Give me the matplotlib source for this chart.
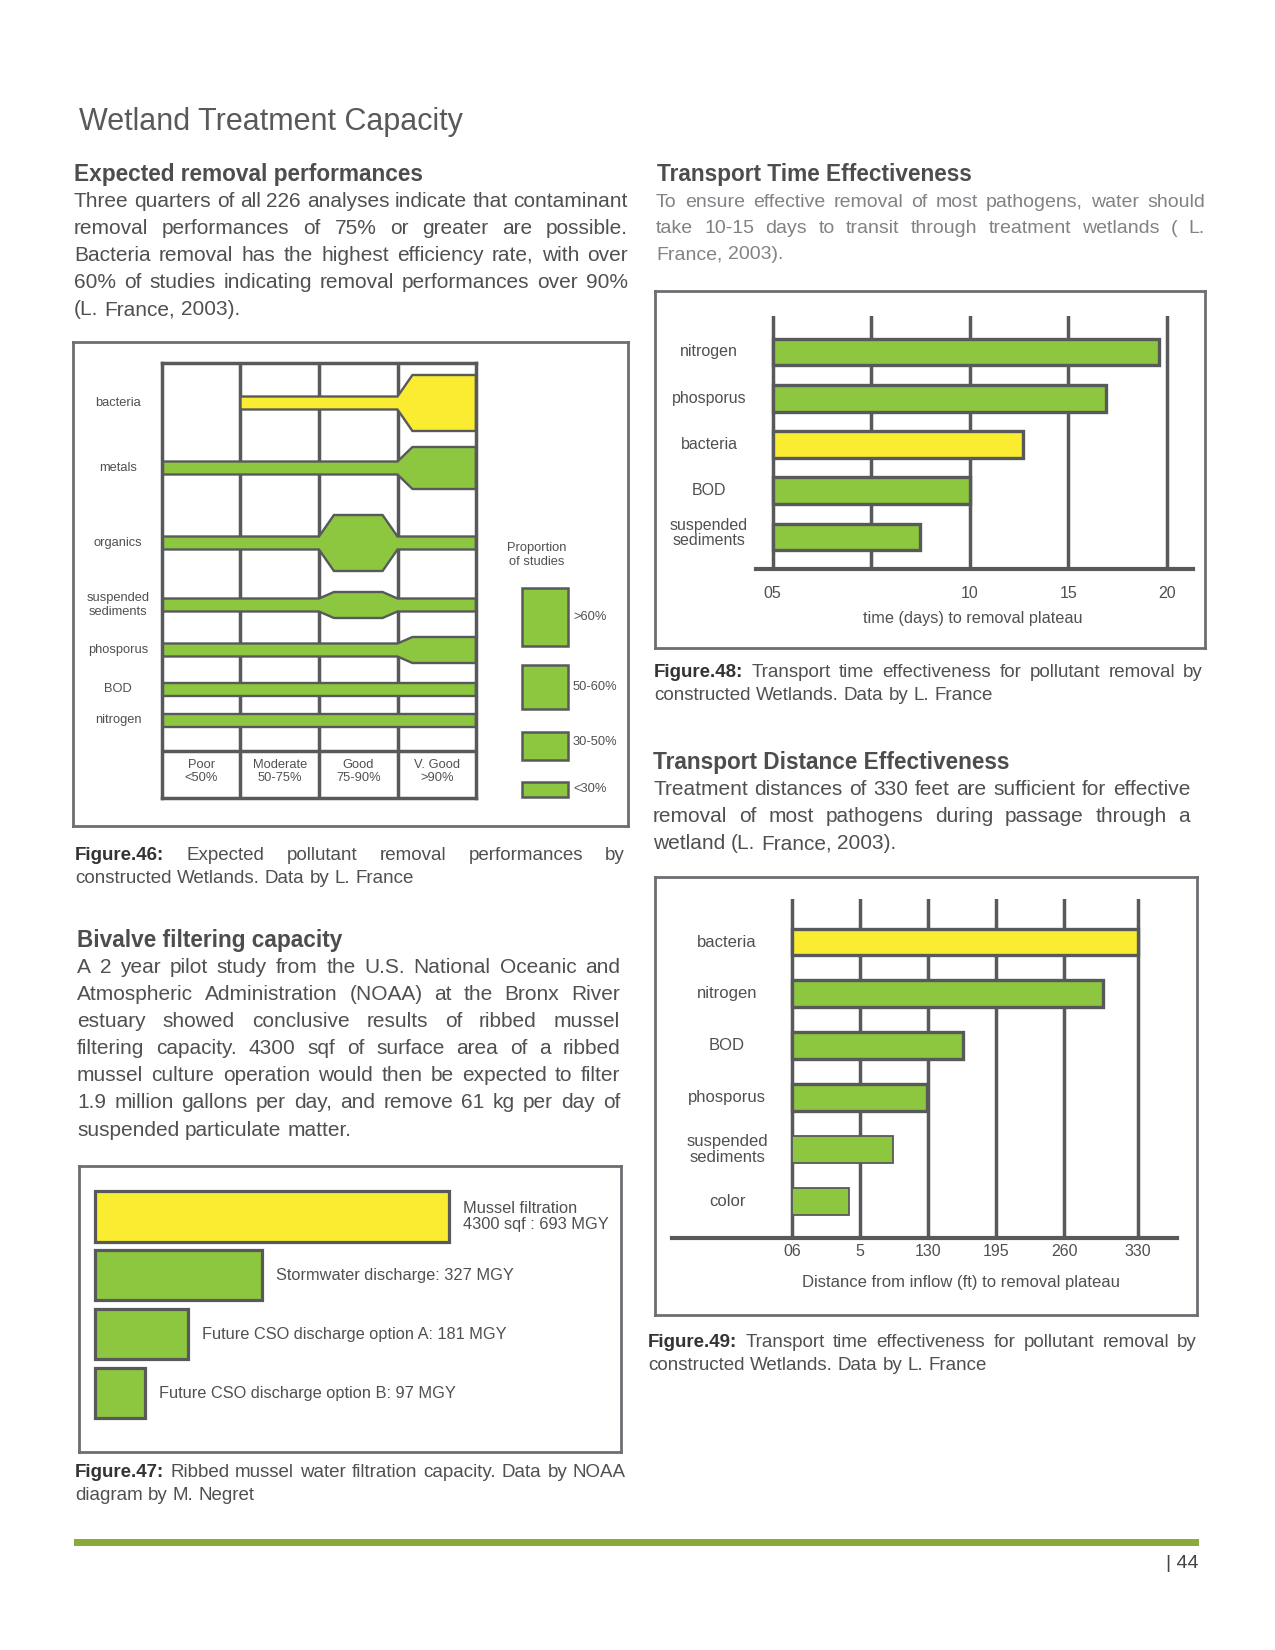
import numpy as np
import matplotlib
matplotlib.use('Agg')
import matplotlib.pyplot as plt
from matplotlib.patches import Polygon, Rectangle
from matplotlib.transforms import blended_transform_factory

plt.rcParams['font.family'] = ['Liberation Sans', 'DejaVu Sans']

W, H = 1275, 1650
GREEN = '#8dc63f'
YELLOW = '#f9ec31'
EDGE = '#58595b'
FRAME = '#6d6e71'
TXT = '#505052'
HEAD = '#4d4d4f'

# ---------------- data ----------------
# Fig 46: proportion of studies per performance class
# 0 = none, 1 = <30%, 2 = 30-50%, 3 = 50-60%, 4 = >60%
perf_classes = ['Poor\n<50%', 'Moderate\n50-75%', 'Good\n75-90%', 'V. Good\n>90%']
perf_pollutants = ['bacteria', 'metals', 'organics', 'suspended\nsediments',
                   'phosporus', 'BOD', 'nitrogen']
perf_levels = [
    [0, 1, 1, 4],
    [1, 1, 1, 3],
    [1, 1, 4, 1],
    [1, 1, 2, 1],
    [1, 1, 1, 2],
    [1, 1, 1, 1],
    [1, 1, 1, 1],
]
legend_levels = [4, 3, 2, 1]
legend_labels = ['>60%', '50-60%', '30-50%', '<30%']

# Fig 47: mussel filtration, million gallons per year
mussel_labels = ['Mussel filtration\n4300 sqf : 693 MGY', 'Stormwater discharge: 327 MGY',
                 'Future CSO discharge option A: 181 MGY', 'Future CSO discharge option B: 97 MGY']
mussel_mgy = [693, 327, 181, 97]

# Fig 48: time (days) to removal plateau
time_pollutants = ['nitrogen', 'phosporus', 'bacteria', 'BOD', 'suspended\nsediments']
time_days = [19.6, 16.9, 12.7, 10.0, 8.75]
time_ticks = [5, 7.5, 10, 15, 20]
time_ticklabels = ['05', '', '10', '15', '20']

# Fig 49: distance (ft) to removal plateau
dist_pollutants = ['bacteria', 'nitrogen', 'BOD', 'phosporus', 'suspended\nsediments', 'color']
dist_ft = [330, 297, 163, 129, 96, 54]
dist_ticks = [0, 65, 130, 195, 260, 330]
dist_ticklabels = ['06', '5', '130', '195', '260', '330']

# ---------------- page ----------------
fig = plt.figure(figsize=(W / 100, H / 100), dpi=100)
renderer = fig.canvas.get_renderer()


def add_ax(x0, y0, x1, y1):
    a = fig.add_axes([x0 / W, 1 - y1 / H, (x1 - x0) / W, (y1 - y0) / H])
    a.set_facecolor('none')
    return a


def frame(x0, y0, x1, y1):
    a = add_ax(x0, y0, x1, y1)
    a.set_xticks([])
    a.set_yticks([])
    for s in a.spines.values():
        s.set_color(FRAME)
        s.set_linewidth(2.0)
    return a


def put(x, y, s, **kw):
    kw.setdefault('color', TXT)
    return fig.text(x / W, 1 - y / H, s, **kw)


def text_w(s, size, weight='normal'):
    t = fig.text(0, 0, s, size=size, weight=weight)
    w = t.get_window_extent(renderer).width
    t.remove()
    return w


def para(x0, x1, y, lines, size, color, lh, bold_words=0, bold_color=None, justify=True):
    space = text_w('a a', size) - text_w('aa', size)
    for i, line in enumerate(lines):
        words = line.split(' ')
        wts = ['bold' if (i == 0 and k < bold_words) else 'normal' for k in range(len(words))]
        cols = [bold_color if (i == 0 and k < bold_words and bold_color) else color
                for k in range(len(words))]
        ws = [text_w(w, size, wt) for w, wt in zip(words, wts)]
        yy = y + i * lh
        if justify and i < len(lines) - 1 and len(words) > 1:
            gap = (x1 - x0 - sum(ws)) / (len(words) - 1)
        else:
            gap = space
        x = x0
        for w, wt, c, wd in zip(words, wts, cols, ws):
            put(x, yy, w, size=size, weight=wt, color=c, va='baseline', ha='left')
            x += wd + gap


# title and headings
put(79, 130, 'Wetland Treatment Capacity', size=22, color='#58595b', va='baseline')
put(74, 180.5, 'Expected removal performances', size=16.3, weight='bold', color=HEAD, va='baseline')
put(657, 180.5, 'Transport Time Effectiveness', size=16.3, weight='bold', color=HEAD, va='baseline')
put(77, 947.5, 'Bivalve filtering capacity', size=16.3, weight='bold', color=HEAD, va='baseline')
put(653, 769, 'Transport Distance Effectiveness', size=16.3, weight='bold', color=HEAD, va='baseline')

para(74, 628, 207, ['Three quarters of all 226 analyses indicate that contaminant',
                    'removal performances of 75% or greater are possible.',
                    'Bacteria removal has the highest efficiency rate, with over',
                    '60% of studies indicating removal performances over 90%',
                    '(L. France, 2003).'], 15, TXT, 27)
para(656, 1205, 207, ['To ensure effective removal of most pathogens, water should',
                      'take 10-15 days to transit through treatment wetlands ( L.',
                      'France, 2003).'], 14, '#808285', 26)
para(77, 620, 973, ['A 2 year pilot study from the U.S. National Oceanic and',
                    'Atmospheric Administration (NOAA) at the Bronx River',
                    'estuary showed conclusive results of ribbed mussel',
                    'filtering capacity. 4300 sqf of surface area of a ribbed',
                    'mussel culture operation would then be expected to filter',
                    '1.9 million gallons per day, and remove 61 kg per day of',
                    'suspended particulate matter.'], 15, TXT, 27.1)
para(653, 1190, 795, ['Treatment distances of 330 feet are sufficient for effective',
                      'removal of most pathogens during passage through a',
                      'wetland (L. France, 2003).'], 15, TXT, 27)

# captions
para(75, 625, 860, ['Figure.46: Expected pollutant removal performances by',
                    'constructed Wetlands. Data by L. France'], 13.5, '#505050', 23,
     bold_words=1, bold_color='#333333')
para(75, 626, 1477, ['Figure.47: Ribbed mussel water filtration capacity. Data by NOAA',
                     'diagram by M. Negret'], 13.5, '#505050', 23, bold_words=1, bold_color='#333333')
para(654, 1203, 677, ['Figure.48: Transport time effectiveness for pollutant removal by',
                      'constructed Wetlands. Data by L. France'], 13.5, '#505050', 23,
     bold_words=1, bold_color='#333333')
para(648, 1197, 1347, ['Figure.49: Transport time effectiveness for pollutant removal by',
                       'constructed Wetlands. Data by L. France'], 13.5, '#505050', 23,
     bold_words=1, bold_color='#333333')

# footer
fig.add_artist(Rectangle((74 / W, 1 - 1546 / H), (1199 - 74) / W, 7 / H,
                         transform=fig.transFigure, color='#8aab3a', lw=0))
put(1199, 1568, '| 44', size=14, color='#444444', ha='right', va='baseline')

# ---------------- Fig 46 ----------------
band_w = {0: 0, 1: 13, 2: 26, 3: 42, 4: 56}
row_y = [40, 105, 180, 242, 287, 326, 357]   # px below grid top
taper = 0.19

fr = frame(73, 342, 628, 826)
fr.set_xlim(0, 555)
fr.set_ylim(484, 0)
fr.text(464, 213, 'Proportion\nof studies', ha='center', va='center', size=9.3, color=TXT)
for lev, lab, yc in zip(legend_levels, legend_labels, [275, 345, 404, 447.5]):
    h = band_w[lev] + 2
    fr.add_patch(Rectangle((449, yc - h / 2), 46, h, fc=GREEN, ec=EDGE, lw=1.8))
    fr.text(500, yc - (4 if lev == 2 else 0), lab, ha='left', va='center', size=9.3, color=TXT)

ax = add_ax(162, 363, 476, 798)
ax.set_xlim(0, 4)
ax.set_ylim(435, 0)
ax.set_xticks([])
ax.set_yticks([])
for s in ax.spines.values():
    s.set_color(EDGE)
    s.set_linewidth(2.5)
    s.set_zorder(4)
ax.vlines([1, 2, 3], 0, 435, color=EDGE, lw=2.5, zorder=1)
ax.axhline(388, color=EDGE, lw=2.5, zorder=1)
for i, c in enumerate(perf_classes):
    ax.text(i + 0.5, 408.5, c, ha='center', va='center', size=9.3, color=TXT)

for name, levels, yc in zip(perf_pollutants, perf_levels, row_y):
    hs = [band_w[l] / 2 for l in levels]
    start = next(i for i, h in enumerate(hs) if h > 0)
    xs, half = [start], [hs[start]]
    for i in range(start, 3):
        b = i + 1
        if hs[i + 1] > hs[i]:
            xs += [b, b + taper]
            half += [hs[i], hs[i + 1]]
        elif hs[i + 1] < hs[i]:
            xs += [b - taper, b]
            half += [hs[i], hs[i + 1]]
    xs.append(4)
    half.append(hs[3])
    upper = [(x, yc - h) for x, h in zip(xs, half)]
    lower = [(x, yc + h) for x, h in zip(xs, half)][::-1]
    col = YELLOW if name == 'bacteria' else GREEN
    ax.add_patch(Polygon(upper + lower, closed=True, fc=col, ec=EDGE, lw=1.7,
                         joinstyle='miter', zorder=3))
    ax.text(-0.56, yc, name, ha='center', va='center', size=9.3, color=TXT, clip_on=False)

# ---------------- Fig 47 ----------------
ax = add_ax(79, 1166, 621, 1452)
ax.set_xlim(-32.1, 1030.6)
ax.set_ylim(4.0, -0.858)
ax.set_xticks([])
ax.set_yticks([])
for s in ax.spines.values():
    s.set_color(FRAME)
    s.set_linewidth(2.0)
ax.barh(range(4), mussel_mgy, height=0.85,
        color=[YELLOW] + [GREEN] * 3, edgecolor=EDGE, linewidth=2.3)
for i, (v, lab) in enumerate(zip(mussel_mgy, mussel_labels)):
    ax.annotate(lab, (v, i), xytext=(10, 0), textcoords='offset points',
                ha='left', va='center', size=11.8, color=TXT, linespacing=1.1)

# ---------------- Fig 48 ----------------
tick_pos = np.arange(len(time_ticks))


def fwd(d):
    d = np.asarray(d, float)
    p = np.interp(d, time_ticks, tick_pos)
    p = np.where(d < 5, (d - 5) / 2.5, p)
    p = np.where(d > 20, 4 + (d - 20) / 5, p)
    return p


def inv(p):
    p = np.asarray(p, float)
    d = np.interp(p, tick_pos, time_ticks)
    d = np.where(p < 0, 5 + p * 2.5, d)
    d = np.where(p > 4, 20 + (p - 4) * 5, d)
    return d


frame(655, 291, 1205, 648)
ax = add_ax(756, 316, 1193, 569)
ax.set_xscale('function', functions=(fwd, inv))
ax.set_xlim(4.58, 21.33)
ax.set_ylim(4.69, -0.778)
ax.barh(range(5), [d - 5 for d in time_days], left=5, height=0.58,
        color=[YELLOW if p == 'bacteria' else GREEN for p in time_pollutants],
        edgecolor=EDGE, linewidth=2.4, zorder=3)
ax.set_xticks(time_ticks)
ax.set_xticklabels(time_ticklabels)
ax.xaxis.grid(True, color=EDGE, lw=2.5)
ax.set_axisbelow(True)
ax.set_yticks([])
ax.tick_params(axis='x', length=0, pad=12, labelsize=11.5, labelcolor=TXT)
for s in ['left', 'top', 'right']:
    ax.spines[s].set_visible(False)
ax.spines['bottom'].set_color(EDGE)
ax.spines['bottom'].set_linewidth(3)
tr = blended_transform_factory(ax.transAxes, ax.transData)
for i, p in enumerate(time_pollutants):
    ax.text(-0.1076, i - (0.08 if '\n' in p else 0), p, transform=tr, ha='center', va='center',
            size=11.5, color=TXT, linespacing=1.0)
put(973, 619, 'time (days) to removal plateau', size=11.7, ha='center', va='center')

# ---------------- Fig 49 ----------------
frame(655, 877, 1197, 1315)
ax = add_ax(672, 899, 1177, 1238)
ax.set_xlim(-114.5, 367.4)
ax.set_ylim(5.71, -0.83)
ax.barh(range(6), dist_ft, height=0.52,
        color=[YELLOW if p == 'bacteria' else GREEN for p in dist_pollutants],
        edgecolor=EDGE, linewidth=[2.4, 2.4, 2.4, 2.4, 1.3, 1.3], zorder=3)
ax.set_xticks(dist_ticks)
ax.set_xticklabels(dist_ticklabels)
ax.xaxis.grid(True, color=EDGE, lw=2.5)
ax.set_axisbelow(True)
ax.set_yticks([])
ax.tick_params(axis='x', length=0, pad=4.5, labelsize=11.5, labelcolor=TXT)
for s in ['left', 'top', 'right']:
    ax.spines[s].set_visible(False)
ax.spines['bottom'].set_color(EDGE)
ax.spines['bottom'].set_linewidth(3)
tr = blended_transform_factory(ax.transAxes, ax.transData)
for i, p in enumerate(dist_pollutants):
    ax.text(0.109, i, p, transform=tr, ha='center', va='center',
            size=12, color=TXT, linespacing=1.05)
put(961, 1283, 'Distance from inflow (ft) to removal plateau', size=12, ha='center', va='center')

fig.savefig('out.png', dpi=100, facecolor='white')
